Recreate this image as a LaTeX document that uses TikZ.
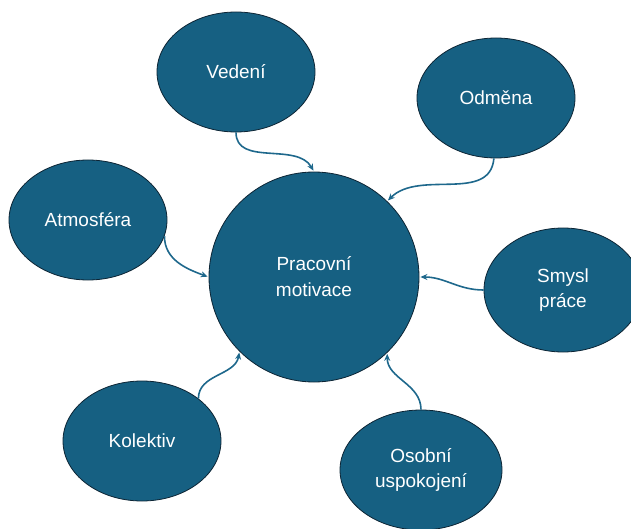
\documentclass[tikz,border=0pt]{standalone}
\usepackage{fontspec}
\setmainfont{Liberation Sans}
\usetikzlibrary{shapes.geometric,arrows.meta}
\definecolor{boxblue}{RGB}{22,96,130}
\definecolor{edgeblue}{RGB}{12,36,52}
\definecolor{lineblue}{RGB}{30,104,140}

\begin{document}
\begin{tikzpicture}[x=1pt,y=1pt,>={Stealth[length=7pt,width=6pt]},
bubble/.style = {ellipse, draw=edgeblue, line width=0.8pt, fill=boxblue, text=white, minimum width=158pt, minimum height=120pt, inner sep=0pt, align=center, font=\fontsize{19}{25}\selectfont},
hub/.style = {circle, draw=edgeblue, line width=0.8pt, fill=boxblue, text=white, minimum size=210pt, inner sep=0pt, align=center, font=\fontsize{19}{26}\selectfont},
link/.style = {->, draw=lineblue, line width=1.6pt, shorten >=1pt},]
\useasboundingbox (0,0) rectangle (631,-529);
\node (M) at (314,-277)[hub] {Pracovní\\motivace};
\node (V) at (236,-72)[bubble] {Vedení};
\node (O) at (496,-98)[bubble] {Odměna};
\node (A) at (88,-220)[bubble] {Atmosféra};
\node (S) at (563,-290)[bubble,minimum height=124pt] {Smysl\\práce};
\node (K) at (142,-441)[bubble] {Kolektiv};
\node (U) at (421,-470)[bubble,minimum width=162pt] {Osobní\\uspokojení};
\draw[link] (V.-90) to[out=-90,in=120] (M.90);
\draw[link] (O.-92) to[out=-95,in=45] (M.46);
\draw[link] (A.-12) to[out=-90,in=160] (M.180);
\draw[link] (S.180) to[out=180,in=0] (M.0);
\draw[link] (K.37) to[out=90,in=-100] (M.225);
\draw[link] (U.90) to[out=90,in=-90] (M.-46);
\end{tikzpicture}
\end{document}
